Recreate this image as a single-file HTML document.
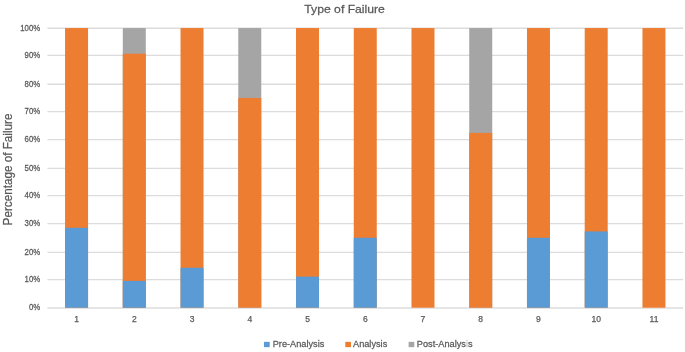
<!DOCTYPE html><html><head><meta charset="utf-8"><style>html,body{margin:0;padding:0;background:#fff;overflow:hidden}svg{display:block}#w{width:685px;height:352px;will-change:transform}text{font-family:"Liberation Sans",sans-serif;fill:#595959;stroke:#595959;stroke-width:0.25px}</style></head><body>
<div id="w"><svg width="685" height="352" viewBox="0 0 685 352">
<rect width="685" height="352" fill="#fff"/>
<line x1="47.40" y1="308.00" x2="683.20" y2="308.00" stroke="#DCDCDC" stroke-width="1.3"/>
<line x1="47.40" y1="279.55" x2="683.20" y2="279.55" stroke="#DCDCDC" stroke-width="1.3"/>
<line x1="47.40" y1="252.30" x2="683.20" y2="252.30" stroke="#DCDCDC" stroke-width="1.3"/>
<line x1="47.40" y1="223.55" x2="683.20" y2="223.55" stroke="#DCDCDC" stroke-width="1.3"/>
<line x1="47.40" y1="195.70" x2="683.20" y2="195.70" stroke="#DCDCDC" stroke-width="1.3"/>
<line x1="47.40" y1="168.30" x2="683.20" y2="168.30" stroke="#DCDCDC" stroke-width="1.3"/>
<line x1="47.40" y1="139.55" x2="683.20" y2="139.55" stroke="#DCDCDC" stroke-width="1.3"/>
<line x1="47.40" y1="111.55" x2="683.20" y2="111.55" stroke="#DCDCDC" stroke-width="1.3"/>
<line x1="47.40" y1="84.25" x2="683.20" y2="84.25" stroke="#DCDCDC" stroke-width="1.3"/>
<line x1="47.40" y1="55.45" x2="683.20" y2="55.45" stroke="#DCDCDC" stroke-width="1.3"/>
<line x1="47.40" y1="28.25" x2="683.20" y2="28.25" stroke="#DCDCDC" stroke-width="1.3"/>
<rect x="65.05" y="28.05" width="23.00" height="279.65" fill="#ED7D31"/>
<rect x="65.05" y="227.80" width="23.00" height="79.90" fill="#5B9BD5"/>
<rect x="122.79" y="28.05" width="23.00" height="279.65" fill="#A5A5A5"/>
<rect x="122.79" y="53.75" width="23.00" height="253.95" fill="#ED7D31"/>
<rect x="122.79" y="280.91" width="23.00" height="26.79" fill="#5B9BD5"/>
<rect x="180.53" y="28.05" width="23.00" height="279.65" fill="#ED7D31"/>
<rect x="180.53" y="267.75" width="23.00" height="39.95" fill="#5B9BD5"/>
<rect x="238.27" y="28.05" width="23.00" height="279.65" fill="#A5A5A5"/>
<rect x="238.27" y="97.96" width="23.00" height="209.74" fill="#ED7D31"/>
<rect x="296.01" y="28.05" width="23.00" height="279.65" fill="#ED7D31"/>
<rect x="296.01" y="276.63" width="23.00" height="31.07" fill="#5B9BD5"/>
<rect x="353.75" y="28.05" width="23.00" height="279.65" fill="#ED7D31"/>
<rect x="353.75" y="237.79" width="23.00" height="69.91" fill="#5B9BD5"/>
<rect x="411.49" y="28.05" width="23.00" height="279.65" fill="#ED7D31"/>
<rect x="469.23" y="28.05" width="23.00" height="279.65" fill="#A5A5A5"/>
<rect x="469.23" y="132.92" width="23.00" height="174.78" fill="#ED7D31"/>
<rect x="526.97" y="28.05" width="23.00" height="279.65" fill="#ED7D31"/>
<rect x="526.97" y="237.79" width="23.00" height="69.91" fill="#5B9BD5"/>
<rect x="584.71" y="28.05" width="23.00" height="279.65" fill="#ED7D31"/>
<rect x="584.71" y="231.43" width="23.00" height="76.27" fill="#5B9BD5"/>
<rect x="642.45" y="28.05" width="23.00" height="279.65" fill="#ED7D31"/>
<text transform="translate(40.2,310.45) scale(0.920,1)" font-size="8.50" text-anchor="end">0%</text>
<text transform="translate(40.2,282.00) scale(0.920,1)" font-size="8.50" text-anchor="end">10%</text>
<text transform="translate(40.2,254.75) scale(0.920,1)" font-size="8.50" text-anchor="end">20%</text>
<text transform="translate(40.2,226.00) scale(0.920,1)" font-size="8.50" text-anchor="end">30%</text>
<text transform="translate(40.2,198.15) scale(0.920,1)" font-size="8.50" text-anchor="end">40%</text>
<text transform="translate(40.2,170.75) scale(0.920,1)" font-size="8.50" text-anchor="end">50%</text>
<text transform="translate(40.2,142.00) scale(0.920,1)" font-size="8.50" text-anchor="end">60%</text>
<text transform="translate(40.2,114.00) scale(0.920,1)" font-size="8.50" text-anchor="end">70%</text>
<text transform="translate(40.2,86.70) scale(0.920,1)" font-size="8.50" text-anchor="end">80%</text>
<text transform="translate(40.2,57.90) scale(0.920,1)" font-size="8.50" text-anchor="end">90%</text>
<text transform="translate(40.2,30.70) scale(0.920,1)" font-size="8.50" text-anchor="end">100%</text>
<text x="76.55" y="321.9" font-size="8.5" text-anchor="middle">1</text>
<text x="134.29" y="321.9" font-size="8.5" text-anchor="middle">2</text>
<text x="192.03" y="321.9" font-size="8.5" text-anchor="middle">3</text>
<text x="249.77" y="321.9" font-size="8.5" text-anchor="middle">4</text>
<text x="307.51" y="321.9" font-size="8.5" text-anchor="middle">5</text>
<text x="365.25" y="321.9" font-size="8.5" text-anchor="middle">6</text>
<text x="422.99" y="321.9" font-size="8.5" text-anchor="middle">7</text>
<text x="480.73" y="321.9" font-size="8.5" text-anchor="middle">8</text>
<text x="538.47" y="321.9" font-size="8.5" text-anchor="middle">9</text>
<text x="596.21" y="321.9" font-size="8.5" text-anchor="middle">10</text>
<text x="653.95" y="321.9" font-size="8.5" text-anchor="middle">11</text>
<text transform="translate(344.6,12.8) scale(1.060,1)" font-size="11.50" text-anchor="middle">Type of Failure</text>
<text transform="translate(11.60,169.50) rotate(-90) scale(0.975,1)" font-size="12.00" text-anchor="middle">Percentage of Failure</text>
<rect x="264.00" y="341.85" width="5.7" height="5.3" fill="#5B9BD5"/>
<text transform="translate(272.70,347.2) scale(0.960,1)" font-size="9.60">Pre-Analysis</text>
<rect x="345.30" y="341.85" width="5.7" height="5.3" fill="#ED7D31"/>
<text transform="translate(353.00,347.2) scale(0.960,1)" font-size="9.60">Analysis</text>
<rect x="408.60" y="341.85" width="5.7" height="5.3" fill="#A5A5A5"/>
<text transform="translate(416.80,347.2) scale(0.960,1)" font-size="9.60">Post-Analys<tspan fill="#c8c8c8" stroke="#c8c8c8">i</tspan>s</text>
</svg></div></body></html>
